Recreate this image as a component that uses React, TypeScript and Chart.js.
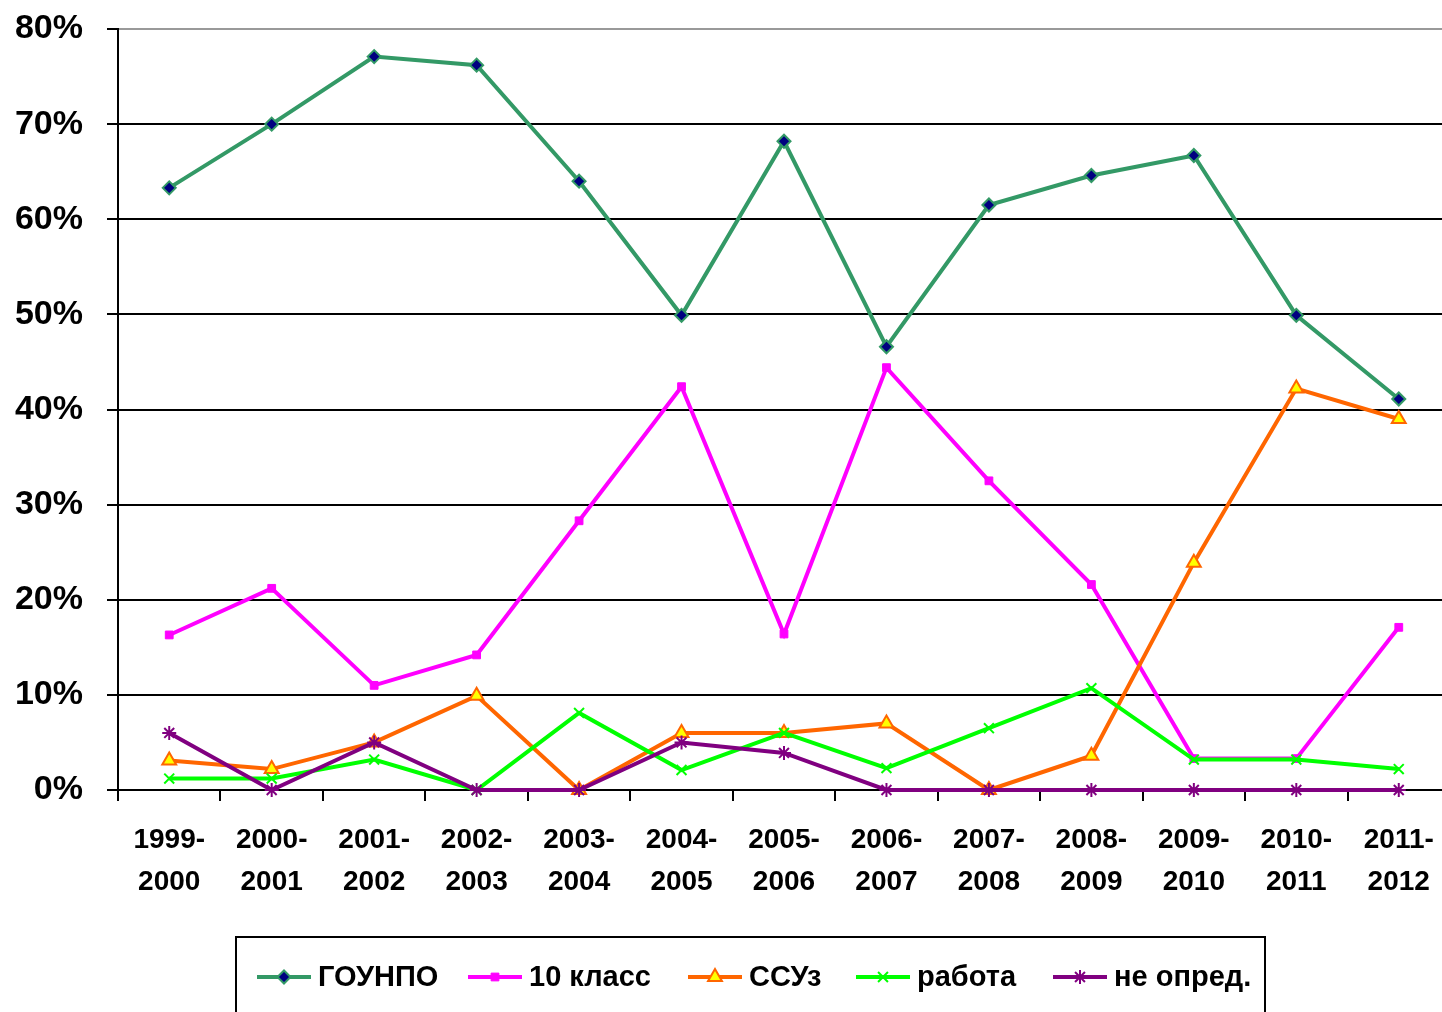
import React, { useEffect, useRef } from "react";
import { Chart, registerables } from "chart.js";
import { drawPoint } from "chart.js/helpers";

Chart.register(...registerables);

const categories: string[][] = [
  ["1999-", "2000"], ["2000-", "2001"], ["2001-", "2002"], ["2002-", "2003"],
  ["2003-", "2004"], ["2004-", "2005"], ["2005-", "2006"], ["2006-", "2007"],
  ["2007-", "2008"], ["2008-", "2009"], ["2009-", "2010"], ["2010-", "2011"],
  ["2011-", "2012"],
];

const gounpo = [63.3, 70.0, 77.1, 76.2, 64.0, 49.9, 68.2, 46.6, 61.5, 64.6, 66.7, 49.9, 41.1];
const klass10 = [16.3, 21.2, 11.0, 14.2, 28.3, 42.4, 16.4, 44.4, 32.5, 21.6, 3.3, 3.3, 17.1];
const ssuz = [3.1, 2.2, 5.0, 9.9, 0, 6.0, 6.0, 7.0, 0, 3.6, 23.9, 42.2, 39.0];
const rabota = [1.2, 1.2, 3.2, 0, 8.1, 2.1, 6.0, 2.3, 6.5, 10.7, 3.2, 3.2, 2.2];
const neopred = [6.0, 0, 5.0, 0, 0, 5.0, 3.9, 0, 0, 0, 0, 0, 0];

const seriesNames = ["ГОУНПО", "10 класс", "ССУз", "работа", "не опред."];
const yTicks = [0, 10, 20, 30, 40, 50, 60, 70, 80];

const FONT = 'Arial, "Liberation Sans", sans-serif';
const CW = 1460;
const CH = 1012;

const styles = [
  { line: "#339966", fill: "#000080", border: "#339966", point: "rectRot", radius: 6.5, bw: 2 },
  { line: "#FF00FF", fill: "#FF00FF", border: "#FF00FF", point: "rect", radius: 5.5, bw: 1 },
  { line: "#FF6600", fill: "#FFFF00", border: "#FF6600", point: "triangle", radius: 8, bw: 2 },
  { line: "#00FF00", fill: "#00FF00", border: "#00FF00", point: "crossRot", radius: 7, bw: 2 },
  { line: "#800080", fill: "#800080", border: "#800080", point: "star", radius: 7, bw: 2 },
];

// legend layout (styling only)
const legendLineStarts = [257, 468, 688, 856, 1053];
const legendBox = { left: 236, top: 937, right: 1265 };

const legendPlugin = {
  id: "boxLegend",
  afterDraw(chart: any) {
    const ctx = chart.ctx as CanvasRenderingContext2D;
    ctx.save();
    const cy = 977;
    ctx.strokeStyle = "#000";
    ctx.lineWidth = 2;
    ctx.strokeRect(legendBox.left, legendBox.top, legendBox.right - legendBox.left, 120);
    seriesNames.forEach((name, i) => {
      const s = styles[i];
      const x = legendLineStarts[i];
      ctx.strokeStyle = s.line;
      ctx.lineWidth = 4;
      ctx.beginPath();
      ctx.moveTo(x, cy);
      ctx.lineTo(x + 54, cy);
      ctx.stroke();
      ctx.fillStyle = s.fill;
      ctx.strokeStyle = s.border;
      ctx.lineWidth = s.bw;
      drawPoint(ctx, { pointStyle: s.point, radius: s.radius, rotation: 0, borderWidth: s.bw } as any, x + 27, cy);
      ctx.fillStyle = "#000";
      ctx.textAlign = "left";
      ctx.textBaseline = "middle";
      ctx.font = `bold 29px ${FONT}`;
      ctx.fillText(name, x + 61, cy + 1);
    });
    ctx.restore();
  },
};

export default function App() {
  const ref = useRef<HTMLCanvasElement | null>(null);
  useEffect(() => {
    if (!ref.current) return;
    const data = [gounpo, klass10, ssuz, rabota, neopred];
    const chart = new Chart(ref.current, {
      type: "line",
      data: {
        labels: categories,
        datasets: data.map((d, i) => ({
          label: seriesNames[i],
          data: d,
          borderColor: styles[i].line,
          backgroundColor: styles[i].fill,
          borderWidth: 4,
          tension: 0,
          pointStyle: styles[i].point as any,
          pointRadius: styles[i].radius,
          pointBackgroundColor: styles[i].fill,
          pointBorderColor: styles[i].border,
          pointBorderWidth: styles[i].bw,
          order: 5 - i,
          clip: false as any,
        })),
      },
      options: {
        animation: false,
        responsive: false,
        devicePixelRatio: 1,
        layout: { padding: { top: 29, right: CW - 1455, left: 0, bottom: 0 } },
        plugins: { legend: { display: false }, tooltip: { enabled: false } },
        scales: {
          x: {
            offset: true,
            afterFit: (s: any) => { s.height = CH - 790; s.paddingLeft = 0; s.paddingRight = 0; },
            grid: {
              offset: true,
              drawOnChartArea: false,
              drawTicks: true,
              tickLength: 11,
              tickColor: "#000",
              tickWidth: 2,
              lineWidth: 2,
              color: "#000",
            },
            border: { color: "#000", width: 2 },
            ticks: {
              color: "#000",
              font: { family: FONT, size: 28, weight: "bold", lineHeight: 1.5 },
              padding: 18,
              maxRotation: 0,
              autoSkip: false,
            },
          },
          y: {
            min: 0,
            max: 80,
            afterFit: (s: any) => { s.width = 118; s.paddingTop = 0; s.paddingBottom = 0; },
            afterBuildTicks: (s: any) => { s.ticks = yTicks.map((v) => ({ value: v })); },
            grid: {
              color: (c: any) => (c.tick && c.tick.value === 80 ? "#999999" : "#000"),
              lineWidth: 2,
              drawTicks: true,
              tickLength: 11,
              tickColor: "#000",
              tickWidth: 2,
            },
            border: { color: "#000", width: 2 },
            ticks: {
              color: "#000",
              font: { family: FONT, size: 34, weight: "bold" },
              padding: 24,
              callback: (v: any) => `${v}%`,
            },
          },
        },
      },
      plugins: [legendPlugin],
    });
    return () => chart.destroy();
  }, []);
  return (
    <div style={{ position: "fixed", left: 0, top: 0, width: 1442, height: 1012, overflow: "hidden", background: "#fff" }}>
      <canvas ref={ref} width={CW} height={CH} style={{ width: CW, height: CH, display: "block" }} />
    </div>
  );
}
